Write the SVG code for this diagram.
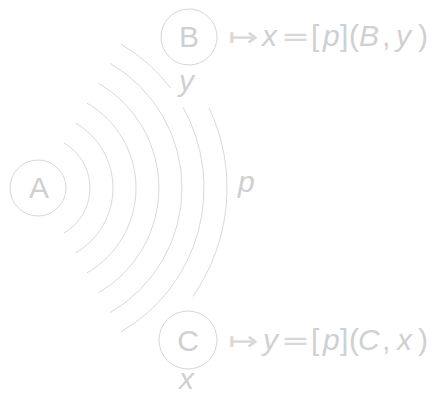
<svg xmlns="http://www.w3.org/2000/svg" width="432" height="396" viewBox="0 0 432 396">
<style>
.n{fill:none;stroke:#d6d6d6;stroke-width:1}
.w{fill:none;stroke:#d9d9d9;stroke-width:1}
.t{font-family:"Liberation Sans",Arial,sans-serif;font-size:30px;fill:#d0d0d0}
.i{font-style:italic}
.m{text-anchor:middle}
.a{font-family:"DejaVu Sans",sans-serif;font-size:26px;fill:#d8d8d8}
</style>
<rect width="432" height="396" fill="#ffffff"/>
<g id="connectors">
<path class="w" d="M64,142.97 A52,52 0 0 1 64,233.03"/>
<path class="w" d="M75.5,123.05 A75,75 0 0 1 75.5,252.95"/>
<path class="w" d="M87,103.13 A98,98 0 0 1 87,272.87"/>
<path class="w" d="M98.5,83.21 A121,121 0 0 1 98.5,292.79"/>
<path class="w" d="M110,63.29 A144,144 0 0 1 110,312.71"/>
<path class="w" d="M121,44.24 A166,166 0 0 1 170.57,88.1"/>
<path class="w" d="M183.18,107.52 A166,166 0 0 1 121,331.76"/>
<path class="w" d="M209.29,108.13 A189,189 0 0 1 192.82,296.41"/>
<text class="t i" x="238" y="192">p</text>
</g>
<g id="node-A">
<circle class="n" cx="38" cy="188" r="28"/>
<text class="t m" x="39" y="198">A</text>
</g>
<g id="node-B">
<circle class="n" cx="189" cy="37" r="28"/>
<text class="t m" x="189" y="47">B</text>
<text class="t i" x="179" y="91">y</text>
<text class="t" y="46"><tspan class="a" x="228" textLength="30" lengthAdjust="spacingAndGlyphs">↦</tspan><tspan class="i" x="262">x</tspan><tspan class="a" x="281" textLength="29" lengthAdjust="spacingAndGlyphs">=</tspan><tspan x="311">[</tspan><tspan class="i" x="323">p</tspan><tspan x="340">]</tspan><tspan x="349">(</tspan><tspan class="i" x="359">B</tspan><tspan x="382">,</tspan><tspan class="i" x="396">y</tspan><tspan x="418">)</tspan></text>
</g>
<g id="node-C">
<circle class="n" cx="188" cy="340" r="29"/>
<text class="t m" x="188" y="350.5">C</text>
<text class="t i" x="179" y="389">x</text>
<text class="t" y="350"><tspan class="a" x="228" textLength="30" lengthAdjust="spacingAndGlyphs">↦</tspan><tspan class="i" x="263">y</tspan><tspan class="a" x="281" textLength="29" lengthAdjust="spacingAndGlyphs">=</tspan><tspan x="311">[</tspan><tspan class="i" x="323">p</tspan><tspan x="340">]</tspan><tspan x="349">(</tspan><tspan class="i" x="358">C</tspan><tspan x="382">,</tspan><tspan class="i" x="397">x</tspan><tspan x="418">)</tspan></text>
</g>
</svg>
